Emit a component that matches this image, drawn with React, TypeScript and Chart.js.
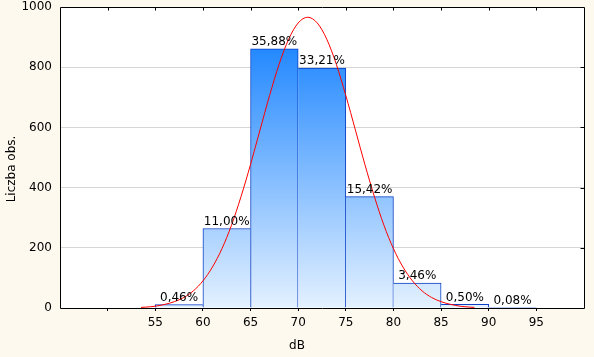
import React, { useEffect, useRef } from "react";
import { Chart, registerables } from "chart.js";

Chart.register(...registerables);

// ---- data ----
const binCenters = [57.5, 62.5, 67.5, 72.5, 77.5, 82.5, 87.5, 92.5];
const counts = [11, 264, 861, 797, 370, 83, 12, 2];
const percentLabels = ["0,46%", "11,00%", "35,88%", "33,21%", "15,42%", "3,46%", "0,50%", "0,08%"];

const curveX = [53.5, 54, 55, 56, 57, 58, 59, 60, 61, 62, 63, 64, 65, 66, 67, 68, 69, 70, 71,
  72, 73, 74, 75, 76, 77, 78, 79, 80, 81, 82, 83, 84, 85, 86, 87, 88, 88.5];
const curveY = [2, 3, 6, 12, 21, 35, 57, 90, 136, 197, 275, 370, 477, 592, 706, 810, 893, 947, 966,
  947, 893, 810, 706, 592, 477, 370, 275, 197, 136, 90, 57, 35, 21, 12, 6, 3, 2];

const xTickMarks = [50, 55, 60, 65, 70, 75, 80, 85, 90, 95];
const xTickLabels = ["", "55", "60", "65", "70", "75", "80", "85", "90", "95"];
const yTickValues = [0, 200, 400, 600, 800, 1000];
const yTickLabels = ["0", "200", "400", "600", "800", "1000"];

const xTitle = "dB";
const yTitle = "Liczba obs.";

const FONT = "'DejaVu Sans', sans-serif";
const CREAM = "#fdf9ee";

export default function App() {
  const ref = useRef<HTMLCanvasElement | null>(null);

  useEffect(() => {
    const canvas = ref.current;
    if (!canvas) return;

    const background = {
      id: "bg",
      beforeDraw(chart: any) {
        const { ctx, chartArea } = chart;
        ctx.save();
        ctx.fillStyle = CREAM;
        ctx.fillRect(0, 0, chart.width, chart.height);
        ctx.fillStyle = "#ffffff";
        ctx.fillRect(chartArea.left, chartArea.top, chartArea.right - chartArea.left, chartArea.bottom - chartArea.top);
        ctx.restore();
      },
    };

    const extras = {
      id: "extras",
      afterDatasetsDraw(chart: any) {
        const { ctx, chartArea, scales } = chart;
        ctx.save();
        // percentage labels
        const meta = chart.getDatasetMeta(1);
        ctx.font = `12px ${FONT}`;
        ctx.fillStyle = "#000";
        ctx.textAlign = "center";
        ctx.textBaseline = "bottom";
        meta.data.forEach((el: any, i: number) => {
          ctx.fillText(percentLabels[i], el.x, el.y - 1);
        });
        // frame
        const l = Math.round(chartArea.left) + 0.5;
        const t = Math.round(chartArea.top) + 0.5;
        const r = Math.round(chartArea.right) + 0.5;
        const b = Math.round(chartArea.bottom) + 0.5;
        ctx.strokeStyle = "#000";
        ctx.lineWidth = 1;
        ctx.beginPath();
        ctx.moveTo(l, t);
        ctx.lineTo(r, t);
        ctx.lineTo(r, b);
        ctx.lineTo(l, b);
        ctx.closePath();
        ctx.stroke();
        // mirrored ticks top
        ctx.beginPath();
        xTickMarks.forEach((v) => {
          const x = Math.round(scales.x.getPixelForValue(v)) + 0.5;
          ctx.moveTo(x, t);
          ctx.lineTo(x, t + 3);
        });
        // mirrored ticks right
        yTickValues.forEach((v) => {
          if (v === 0 || v === 1000) return;
          const y = Math.round(scales.y.getPixelForValue(v)) + 0.5;
          ctx.moveTo(r, y);
          ctx.lineTo(r - 4, y);
        });
        ctx.stroke();
        // titles
        ctx.fillStyle = "#000";
        ctx.font = `12px ${FONT}`;
        ctx.textAlign = "center";
        ctx.textBaseline = "middle";
        ctx.fillText(xTitle, chart.width / 2, 346);
        ctx.translate(12, 169);
        ctx.rotate(-Math.PI / 2);
        ctx.fillText(yTitle, 0, 0);
        ctx.restore();
      },
    };

    const last = counts.length - 1;

    const chart = new Chart(canvas, {
      type: "bar",
      data: {
        datasets: [
          {
            type: "line",
            data: curveX.map((x, i) => ({ x, y: curveY[i] })),
            borderColor: "#ff0000",
            borderWidth: 1,
            pointRadius: 0,
            tension: 0.4,
            cubicInterpolationMode: "monotone",
            fill: false,
            order: 0,
          } as any,
          {
            type: "bar",
            data: binCenters.map((x, i) => ({ x, y: counts[i] })),
            backgroundColor: (c: any) => {
              const ch = c.chart;
              const { chartArea, scales } = ch;
              if (!chartArea) return "#8ec4fb";
              const top = scales.y.getPixelForValue(Math.max(...counts));
              const g = ch.ctx.createLinearGradient(0, top, 0, chartArea.bottom);
              g.addColorStop(0, "#2489ff");
              g.addColorStop(1, "#e4f1ff");
              return g;
            },
            borderColor: "#0a3fc4",
            borderWidth: (c: any) => {
              const i = c.dataIndex;
              return {
                top: 1,
                bottom: 0,
                left: i === 0 || counts[i - 1] <= counts[i] ? 1 : 0,
                right: i === last || counts[i + 1] < counts[i] ? 1 : 0,
              };
            },
            borderSkipped: false,
            barPercentage: 1,
            categoryPercentage: 1,
            grouped: false,
            order: 1,
          } as any,
        ],
      },
      options: {
        responsive: false,
        animation: false,
        devicePixelRatio: 1,
        layout: { padding: { top: 0, right: 10, bottom: 0, left: 0 } },
        plugins: {
          legend: { display: false },
          tooltip: { enabled: false },
          title: { display: false },
        },
        scales: {
          x: {
            type: "linear",
            min: 45,
            max: 100,
            offset: false,
            position: "bottom",
            afterBuildTicks: (s: any) => {
              s.ticks = xTickMarks.map((v) => ({ value: v }));
            },
            afterFit: (s: any) => {
              s.height = 49;
              s.paddingLeft = 0;
              s.paddingRight = 0;
            },
            ticks: {
              autoSkip: false,
              maxRotation: 0,
              padding: 5,
              color: "#000",
              font: { family: FONT, size: 12 },
              callback: (v: any) => {
                const i = xTickMarks.indexOf(Number(v));
                return i >= 0 ? xTickLabels[i] : "";
              },
            },
            grid: {
              drawOnChartArea: false,
              drawTicks: true,
              tickLength: 3,
              tickColor: "#000",
              offset: false,
            },
            border: { display: false },
          },
          y: {
            type: "linear",
            min: 0,
            max: 1000,
            afterBuildTicks: (s: any) => {
              s.ticks = yTickValues.map((v) => ({ value: v }));
            },
            afterFit: (s: any) => {
              s.width = 60;
              s.paddingTop = 7;
              s.paddingBottom = 0;
            },
            ticks: {
              padding: 8,
              color: "#000",
              font: { family: FONT, size: 12 },
              callback: (v: any) => {
                const i = yTickValues.indexOf(Number(v));
                return i >= 0 ? yTickLabels[i] : "";
              },
            },
            grid: {
              drawTicks: false,
              color: (c: any) =>
                c.tick && (c.tick.value === 0 || c.tick.value === 1000) ? "rgba(0,0,0,0)" : "#d6d6d6",
            },
            border: { display: false },
          },
        },
      },
      plugins: [background, extras],
    } as any);

    return () => chart.destroy();
  }, []);

  return (
    <div style={{ position: "fixed", left: 0, top: 0, width: 594, height: 357, background: CREAM }}>
      <canvas ref={ref} width={594} height={357} style={{ display: "block" }} />
    </div>
  );
}
